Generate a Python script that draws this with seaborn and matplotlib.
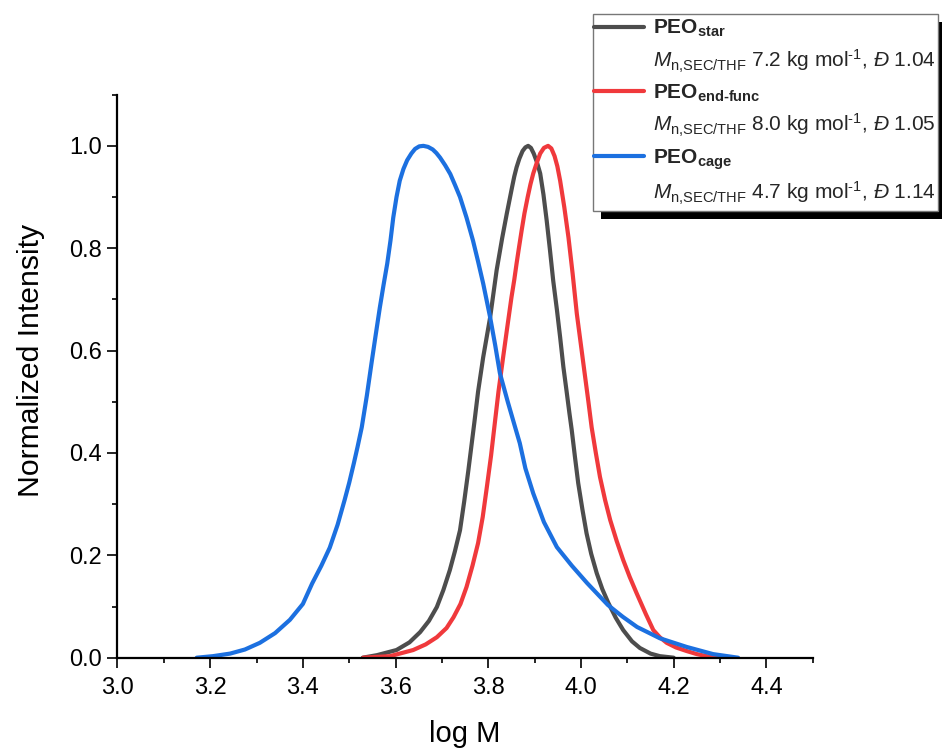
import numpy as np
import pandas as pd
import matplotlib
matplotlib.use("Agg")
import matplotlib.pyplot as plt
import seaborn as sns
from matplotlib.lines import Line2D
from matplotlib.patches import Rectangle

# ---------------- data ----------------
star_logM = [3.529, 3.560, 3.602, 3.630, 3.653, 3.672, 3.689, 3.703, 3.717, 3.728,
             3.739, 3.748, 3.757, 3.770, 3.778, 3.789, 3.804, 3.818, 3.830, 3.840,
             3.851, 3.856, 3.861, 3.867, 3.874, 3.880, 3.886, 3.892, 3.898, 3.905,
             3.912, 3.919, 3.926, 3.933, 3.940, 3.948, 3.955, 3.962, 3.969, 3.975,
             3.980, 3.987, 3.994, 4.003, 4.012, 4.022, 4.034, 4.046, 4.059, 4.075,
             4.091, 4.110, 4.127, 4.150, 4.170, 4.200]
star_int = [0.000, 0.005, 0.015, 0.030, 0.050, 0.072, 0.099, 0.132, 0.171, 0.208,
            0.249, 0.305, 0.366, 0.460, 0.520, 0.587, 0.665, 0.757, 0.820, 0.868,
            0.918, 0.940, 0.958, 0.975, 0.990, 0.997, 1.000, 0.996, 0.985, 0.968,
            0.946, 0.905, 0.854, 0.797, 0.737, 0.680, 0.626, 0.568, 0.520, 0.478,
            0.445, 0.392, 0.341, 0.290, 0.243, 0.203, 0.165, 0.134, 0.107, 0.078,
            0.054, 0.032, 0.019, 0.008, 0.003, 0.000]

end_logM = [3.530, 3.588, 3.638, 3.665, 3.689, 3.710, 3.725, 3.740, 3.753, 3.766,
            3.778, 3.788, 3.797, 3.806, 3.813, 3.822, 3.832, 3.841, 3.850, 3.856,
            3.861, 3.866, 3.872, 3.878, 3.885, 3.891, 3.897, 3.905, 3.912, 3.920,
            3.929, 3.936, 3.943, 3.949, 3.955, 3.964, 3.973, 3.982, 3.991, 4.000,
            4.009, 4.016, 4.023, 4.032, 4.041, 4.052, 4.063, 4.077, 4.091, 4.105,
            4.120, 4.140, 4.156, 4.170, 4.185, 4.205, 4.228, 4.250, 4.271, 4.300]
end_int = [0.000, 0.003, 0.015, 0.026, 0.040, 0.058, 0.079, 0.105, 0.138, 0.180,
           0.224, 0.275, 0.334, 0.395, 0.450, 0.520, 0.587, 0.646, 0.704, 0.738,
           0.770, 0.800, 0.835, 0.868, 0.900, 0.925, 0.946, 0.968, 0.985, 0.996,
           1.000, 0.995, 0.980, 0.960, 0.932, 0.880, 0.821, 0.750, 0.672, 0.610,
           0.548, 0.500, 0.450, 0.400, 0.353, 0.308, 0.269, 0.228, 0.191, 0.158,
           0.126, 0.085, 0.054, 0.040, 0.029, 0.020, 0.013, 0.007, 0.003, 0.000]

cage_logM = [3.171, 3.206, 3.243, 3.275, 3.307, 3.340, 3.372, 3.400, 3.420, 3.440,
             3.458, 3.475, 3.490, 3.500, 3.510, 3.518, 3.527, 3.538, 3.548, 3.557,
             3.566, 3.574, 3.582, 3.589, 3.595, 3.602, 3.609, 3.617, 3.625, 3.634,
             3.642, 3.651, 3.660, 3.670, 3.680, 3.688, 3.696, 3.707, 3.718, 3.728,
             3.739, 3.753, 3.767, 3.778, 3.789, 3.804, 3.815, 3.825, 3.842, 3.858,
             3.868, 3.880, 3.897, 3.920, 3.948, 3.980, 4.013, 4.058, 4.090, 4.121,
             4.170, 4.228, 4.285, 4.339]
cage_int = [0.000, 0.003, 0.008, 0.016, 0.029, 0.048, 0.074, 0.105, 0.145, 0.180,
            0.215, 0.260, 0.308, 0.342, 0.380, 0.412, 0.450, 0.512, 0.575, 0.630,
            0.684, 0.728, 0.770, 0.815, 0.860, 0.900, 0.932, 0.955, 0.972, 0.985,
            0.994, 0.999, 1.000, 0.998, 0.993, 0.986, 0.977, 0.962, 0.945, 0.924,
            0.900, 0.860, 0.815, 0.774, 0.731, 0.665, 0.610, 0.556, 0.500, 0.450,
            0.419, 0.370, 0.321, 0.265, 0.216, 0.180, 0.146, 0.103, 0.080, 0.060,
            0.038, 0.021, 0.007, 0.000]

series_names = ["PEO_star", "PEO_end-func", "PEO_cage"]
series_colors = ["#4d4d4d", "#f0393c", "#1c70e0"]
legend_titles = [r"$\mathbf{PEO_{star}}$",
                 r"$\mathbf{PEO_{end‐func}}$",
                 r"$\mathbf{PEO_{cage}}$"]
legend_details = [r"$M_{\mathrm{n{,}SEC/THF}}$ 7.2 kg mol$^{‐1}$, $Đ$ 1.04",
                  r"$M_{\mathrm{n{,}SEC/THF}}$ 8.0 kg mol$^{‐1}$, $Đ$ 1.05",
                  r"$M_{\mathrm{n{,}SEC/THF}}$ 4.7 kg mol$^{‐1}$, $Đ$ 1.14"]
x_ticks = [3.0, 3.2, 3.4, 3.6, 3.8, 4.0, 4.2, 4.4]
y_ticks = [0.0, 0.2, 0.4, 0.6, 0.8, 1.0]

frames = []
for name, xs, ys in zip(series_names,
                        [star_logM, end_logM, cage_logM],
                        [star_int, end_int, cage_int]):
    frames.append(pd.DataFrame({"logM": xs, "I": ys, "series": name}))
df = pd.concat(frames, ignore_index=True)

# ---------------- style ----------------
sns.set_theme(style="ticks")
plt.rcParams["font.family"] = ["Liberation Sans", "DejaVu Sans"]
plt.rcParams["mathtext.fontset"] = "custom"
plt.rcParams["mathtext.rm"] = "Liberation Sans"
plt.rcParams["mathtext.it"] = "Liberation Sans:italic"
plt.rcParams["mathtext.bf"] = "Liberation Sans:bold"
plt.rcParams["mathtext.sf"] = "Liberation Sans"

W, H = 942, 749
fig = plt.figure(figsize=(W / 100, H / 100), dpi=100)
ax = fig.add_axes([0.1247, 0.1219, 0.7381, 0.7517])

sns.lineplot(data=df, x="logM", y="I", hue="series", hue_order=series_names,
             palette=series_colors, sort=False, estimator=None, linewidth=3.0,
             legend=False, ax=ax)
for ln in ax.get_lines():
    ln.set_solid_joinstyle("round")
    ln.set_solid_capstyle("round")

ax.set_xlim(3.0, 4.5)
ax.set_ylim(0.0, 1.1)
ax.set_xticks(x_ticks)
ax.set_xticklabels([f"{v:.1f}" for v in x_ticks])
ax.set_yticks(y_ticks)
ax.set_yticklabels([f"{v:.1f}" for v in y_ticks])
ax.xaxis.set_minor_locator(matplotlib.ticker.MultipleLocator(0.1))
ax.yaxis.set_minor_locator(matplotlib.ticker.MultipleLocator(0.1))
ax.tick_params(which="major", direction="out", length=7, width=1.2,
               labelsize=17, color="black", labelcolor="black")
ax.tick_params(axis="x", which="major", pad=7)
ax.tick_params(axis="y", which="major", pad=4)
ax.tick_params(which="minor", direction="out", length=3.5, width=1.2, color="black")
sns.despine(ax=ax)
for s in ["left", "bottom"]:
    ax.spines[s].set_linewidth(1.6)
    ax.spines[s].set_color("black")

ax.set_xlabel("log M", fontsize=21, labelpad=15, color="black")
ax.set_ylabel("Normalized Intensity", fontsize=21.7, color="black")
ax.yaxis.set_label_coords(-0.104, 0.5275)

# ---------------- legend ----------------
# frame + shadow (legend box in figure pixels: x 593..938, y 14..211 from top)
bx0, bx1, by0, by1 = 593, 938, 14, 211
off = 8
fig.add_artist(Rectangle(((bx0 + off) / W, 1 - (by1 + off) / H),
                         (bx1 - bx0) / W, (by1 - by0) / H,
                         transform=fig.transFigure, facecolor="black",
                         edgecolor="none", zorder=8))
fig.add_artist(Rectangle((bx0 / W, 1 - by1 / H), (bx1 - bx0) / W, (by1 - by0) / H,
                         transform=fig.transFigure, facecolor="white",
                         edgecolor="#777777", linewidth=1.0, zorder=9))

handles, labels = [], []
for col, t, d in zip(series_colors, legend_titles, legend_details):
    handles.append(Line2D([], [], color=col, linewidth=3.0))
    labels.append(t)
    handles.append(Line2D([], [], color="none", linewidth=0))
    labels.append(d)

leg = fig.legend(handles, labels, loc="upper left",
                 bbox_to_anchor=(594 / W, 1 - 18 / H),
                 bbox_transform=fig.transFigure,
                 fontsize=15, frameon=False,
                 borderpad=0.0, borderaxespad=0, handlelength=2.4,
                 handletextpad=0.45, labelspacing=0.39)
leg.set_zorder(10)

fig.savefig("out.png", dpi=100)
